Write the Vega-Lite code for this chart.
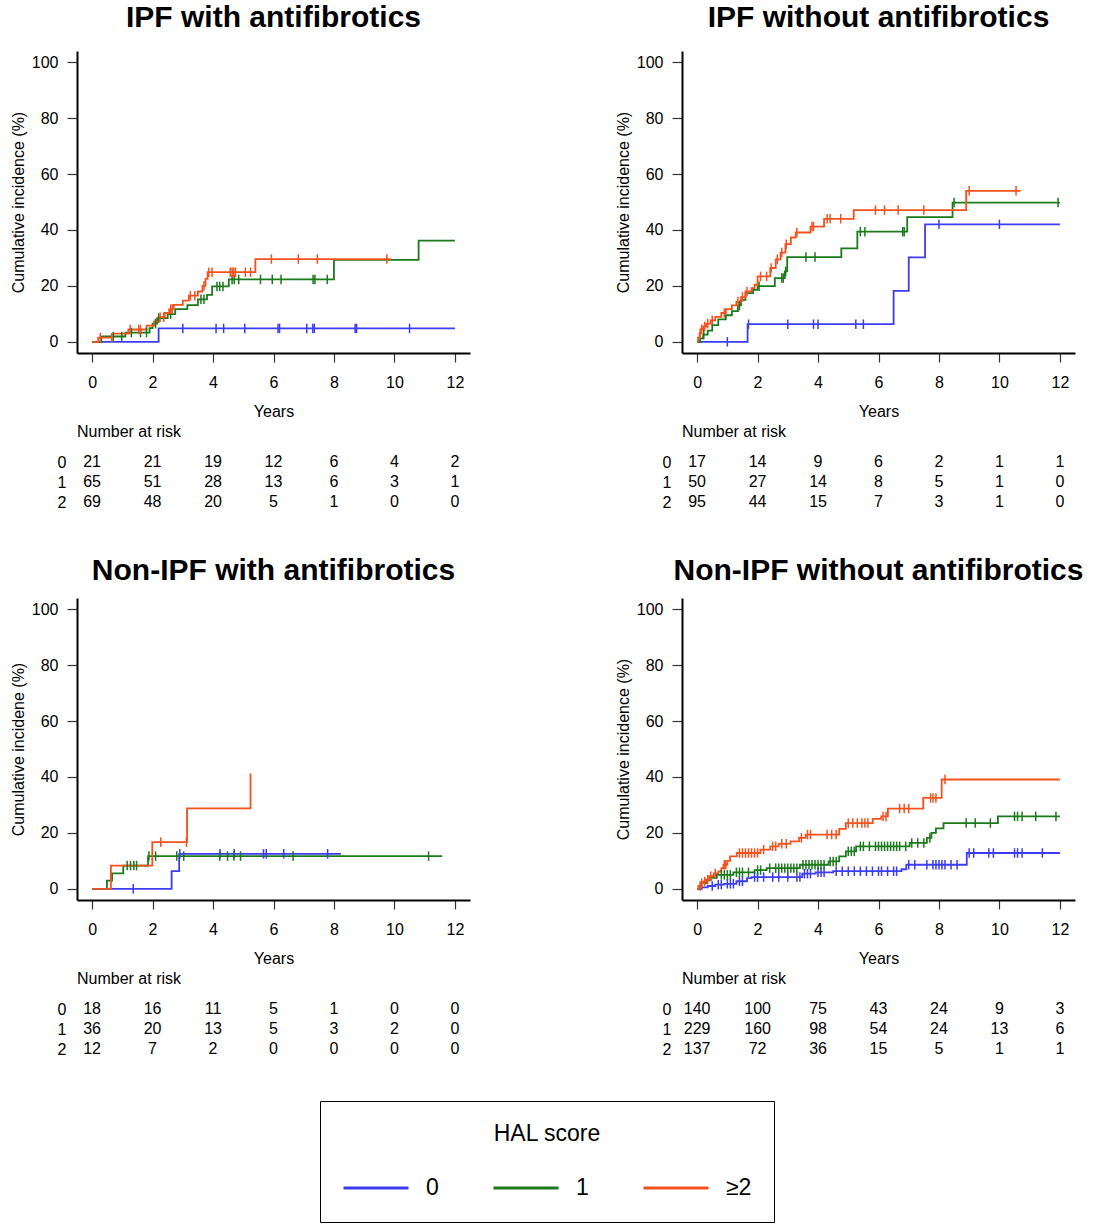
{
"$schema": "https://vega.github.io/schema/vega-lite/v6.json",
"padding": {"left": 10, "top": 3, "right": 5, "bottom": 5},
"config": {
 "font": "Liberation Sans",
 "view": {"stroke": null},
 "axis": {"grid": false, "domainColor": "#000", "domainWidth": 2, "tickColor": "#333", "tickWidth": 1.2, "labelColor": "#000", "titleColor": "#000", "labelFontSize": 16, "titleFontSize": 16, "titleFontWeight": "normal", "labelFont": "Liberation Sans", "titleFont": "Liberation Sans"},
 "axisX": {"tickSize": 9, "labelPadding": 12, "titlePadding": 13},
 "axisY": {"tickSize": 10, "labelPadding": 9, "titlePadding": 5},
 "title": {"font": "Liberation Sans", "fontSize": 30, "fontWeight": "bold", "color": "#000", "anchor": "middle", "frame": "group", "baseline": "alphabetic", "offset": 18},
 "legend": {"orient": "bottom", "direction": "horizontal", "symbolType": "stroke", "symbolStrokeWidth": 3, "symbolSize": 4225, "labelFontSize": 23, "titleFontSize": 23, "titleFontWeight": "normal", "titleAnchor": "middle", "titleOrient": "top", "titleColor": "#000", "labelColor": "#000", "strokeColor": "#000", "padding": 22, "columnPadding": 48, "labelOffset": 16, "offset": 42, "titlePadding": 8, "layout": {"bottom": {"anchor": "middle"}}}
},
"datasets": {
"curves": [
{"p":"A","g":"0","t":0,"v":0},{"p":"A","g":"0","t":2.2,"v":4.8},{"p":"A","g":"0","t":12,"v":4.8},
{"p":"A","g":"1","t":0,"v":0},{"p":"A","g":"1","t":0.3,"v":1.9},{"p":"A","g":"1","t":1.1,"v":3.3},{"p":"A","g":"1","t":1.9,"v":4.9},{"p":"A","g":"1","t":2.0,"v":6.5},{"p":"A","g":"1","t":2.15,"v":8.5},{"p":"A","g":"1","t":2.5,"v":9.9},{"p":"A","g":"1","t":2.75,"v":11.7},{"p":"A","g":"1","t":3.15,"v":13.1},{"p":"A","g":"1","t":3.5,"v":15.2},{"p":"A","g":"1","t":3.8,"v":16.8},{"p":"A","g":"1","t":3.97,"v":19.8},{"p":"A","g":"1","t":4.52,"v":22.3},{"p":"A","g":"1","t":8.0,"v":29.3},{"p":"A","g":"1","t":10.8,"v":36.2},{"p":"A","g":"1","t":12,"v":36.2},
{"p":"A","g":"≥2","t":0,"v":0},{"p":"A","g":"≥2","t":0.2,"v":1.5},{"p":"A","g":"≥2","t":0.7,"v":2.9},{"p":"A","g":"≥2","t":1.2,"v":4.4},{"p":"A","g":"≥2","t":1.8,"v":5.8},{"p":"A","g":"≥2","t":2.05,"v":7.3},{"p":"A","g":"≥2","t":2.2,"v":8.8},{"p":"A","g":"≥2","t":2.4,"v":10.3},{"p":"A","g":"≥2","t":2.55,"v":11.7},{"p":"A","g":"≥2","t":2.7,"v":13.2},{"p":"A","g":"≥2","t":3.0,"v":14.7},{"p":"A","g":"≥2","t":3.2,"v":16.5},{"p":"A","g":"≥2","t":3.5,"v":18.0},{"p":"A","g":"≥2","t":3.65,"v":20.0},{"p":"A","g":"≥2","t":3.75,"v":22.5},{"p":"A","g":"≥2","t":3.82,"v":24.9},{"p":"A","g":"≥2","t":5.4,"v":29.6},{"p":"A","g":"≥2","t":9.9,"v":29.6},
{"p":"B","g":"0","t":0,"v":0},{"p":"B","g":"0","t":1.67,"v":6.3},{"p":"B","g":"0","t":6.5,"v":18.2},{"p":"B","g":"0","t":7.0,"v":30.2},{"p":"B","g":"0","t":7.54,"v":42.0},{"p":"B","g":"0","t":12,"v":42.0},
{"p":"B","g":"1","t":0,"v":0},{"p":"B","g":"1","t":0.1,"v":1.2},{"p":"B","g":"1","t":0.2,"v":2.6},{"p":"B","g":"1","t":0.35,"v":4.0},{"p":"B","g":"1","t":0.5,"v":6.0},{"p":"B","g":"1","t":0.7,"v":8.0},{"p":"B","g":"1","t":0.95,"v":9.5},{"p":"B","g":"1","t":1.15,"v":11.0},{"p":"B","g":"1","t":1.35,"v":13.0},{"p":"B","g":"1","t":1.45,"v":15.0},{"p":"B","g":"1","t":1.6,"v":17.4},{"p":"B","g":"1","t":1.85,"v":18.6},{"p":"B","g":"1","t":2.0,"v":19.9},{"p":"B","g":"1","t":2.57,"v":22.8},{"p":"B","g":"1","t":2.9,"v":25.2},{"p":"B","g":"1","t":2.98,"v":30.3},{"p":"B","g":"1","t":4.77,"v":33.4},{"p":"B","g":"1","t":5.3,"v":39.4},{"p":"B","g":"1","t":6.95,"v":44.6},{"p":"B","g":"1","t":8.45,"v":49.8},{"p":"B","g":"1","t":12,"v":49.8},
{"p":"B","g":"≥2","t":0,"v":0},{"p":"B","g":"≥2","t":0.03,"v":1.5},{"p":"B","g":"≥2","t":0.08,"v":3.0},{"p":"B","g":"≥2","t":0.13,"v":4.5},{"p":"B","g":"≥2","t":0.2,"v":5.5},{"p":"B","g":"≥2","t":0.3,"v":6.5},{"p":"B","g":"≥2","t":0.45,"v":7.7},{"p":"B","g":"≥2","t":0.6,"v":8.9},{"p":"B","g":"≥2","t":0.8,"v":10.3},{"p":"B","g":"≥2","t":0.95,"v":11.7},{"p":"B","g":"≥2","t":1.15,"v":13.0},{"p":"B","g":"≥2","t":1.3,"v":14.4},{"p":"B","g":"≥2","t":1.45,"v":16.0},{"p":"B","g":"≥2","t":1.6,"v":18.0},{"p":"B","g":"≥2","t":1.8,"v":19.2},{"p":"B","g":"≥2","t":1.9,"v":20.4},{"p":"B","g":"≥2","t":2.0,"v":23.4},{"p":"B","g":"≥2","t":2.42,"v":26.4},{"p":"B","g":"≥2","t":2.6,"v":29.5},{"p":"B","g":"≥2","t":2.76,"v":31.9},{"p":"B","g":"≥2","t":2.92,"v":34.9},{"p":"B","g":"≥2","t":3.1,"v":37.3},{"p":"B","g":"≥2","t":3.26,"v":39.1},{"p":"B","g":"≥2","t":3.75,"v":41.2},{"p":"B","g":"≥2","t":4.2,"v":44.0},{"p":"B","g":"≥2","t":5.18,"v":47.1},{"p":"B","g":"≥2","t":8.9,"v":54.0},{"p":"B","g":"≥2","t":10.7,"v":54.0},
{"p":"C","g":"0","t":0,"v":0},{"p":"C","g":"0","t":2.63,"v":6.3},{"p":"C","g":"0","t":2.88,"v":12.5},{"p":"C","g":"0","t":8.23,"v":12.5},
{"p":"C","g":"1","t":0,"v":0},{"p":"C","g":"1","t":0.49,"v":2.9},{"p":"C","g":"1","t":0.66,"v":5.5},{"p":"C","g":"1","t":1.03,"v":8.3},{"p":"C","g":"1","t":1.85,"v":11.7},{"p":"C","g":"1","t":11.58,"v":11.7},
{"p":"C","g":"≥2","t":0,"v":0},{"p":"C","g":"≥2","t":0.62,"v":8.3},{"p":"C","g":"≥2","t":1.99,"v":16.7},{"p":"C","g":"≥2","t":3.14,"v":28.8},{"p":"C","g":"≥2","t":5.24,"v":41.2},
{"p":"D","g":"0","t":0,"v":0},{"p":"D","g":"0","t":0.15,"v":0.5},{"p":"D","g":"0","t":0.35,"v":1.0},{"p":"D","g":"0","t":0.6,"v":1.5},{"p":"D","g":"0","t":0.9,"v":1.8},{"p":"D","g":"0","t":1.3,"v":2.7},{"p":"D","g":"0","t":1.65,"v":3.8},{"p":"D","g":"0","t":1.8,"v":4.2},{"p":"D","g":"0","t":3.48,"v":5.4},{"p":"D","g":"0","t":3.92,"v":5.9},{"p":"D","g":"0","t":4.5,"v":6.3},{"p":"D","g":"0","t":6.76,"v":7.0},{"p":"D","g":"0","t":6.92,"v":8.6},{"p":"D","g":"0","t":8.92,"v":12.8},{"p":"D","g":"0","t":12,"v":12.8},
{"p":"D","g":"1","t":0,"v":0},{"p":"D","g":"1","t":0.05,"v":1.0},{"p":"D","g":"1","t":0.15,"v":2.0},{"p":"D","g":"1","t":0.3,"v":3.0},{"p":"D","g":"1","t":0.45,"v":3.9},{"p":"D","g":"1","t":0.65,"v":5.0},{"p":"D","g":"1","t":1.2,"v":5.9},{"p":"D","g":"1","t":1.9,"v":6.7},{"p":"D","g":"1","t":2.3,"v":7.4},{"p":"D","g":"1","t":3.4,"v":8.6},{"p":"D","g":"1","t":4.35,"v":9.8},{"p":"D","g":"1","t":4.7,"v":11.6},{"p":"D","g":"1","t":4.92,"v":13.4},{"p":"D","g":"1","t":5.26,"v":15.2},{"p":"D","g":"1","t":7.03,"v":16.4},{"p":"D","g":"1","t":7.6,"v":18.2},{"p":"D","g":"1","t":7.75,"v":20.0},{"p":"D","g":"1","t":7.9,"v":21.6},{"p":"D","g":"1","t":8.15,"v":23.5},{"p":"D","g":"1","t":9.95,"v":25.9},{"p":"D","g":"1","t":12,"v":25.9},
{"p":"D","g":"≥2","t":0,"v":0},{"p":"D","g":"≥2","t":0.05,"v":1.0},{"p":"D","g":"≥2","t":0.12,"v":2.0},{"p":"D","g":"≥2","t":0.2,"v":2.6},{"p":"D","g":"≥2","t":0.3,"v":3.3},{"p":"D","g":"≥2","t":0.4,"v":4.5},{"p":"D","g":"≥2","t":0.55,"v":5.5},{"p":"D","g":"≥2","t":0.7,"v":6.2},{"p":"D","g":"≥2","t":0.8,"v":7.4},{"p":"D","g":"≥2","t":0.87,"v":8.6},{"p":"D","g":"≥2","t":1.0,"v":10.0},{"p":"D","g":"≥2","t":1.09,"v":11.6},{"p":"D","g":"≥2","t":1.31,"v":12.8},{"p":"D","g":"≥2","t":2.09,"v":14.0},{"p":"D","g":"≥2","t":2.42,"v":15.2},{"p":"D","g":"≥2","t":2.7,"v":16.1},{"p":"D","g":"≥2","t":3.09,"v":17.0},{"p":"D","g":"≥2","t":3.37,"v":18.2},{"p":"D","g":"≥2","t":3.59,"v":19.4},{"p":"D","g":"≥2","t":4.7,"v":21.4},{"p":"D","g":"≥2","t":4.92,"v":23.5},{"p":"D","g":"≥2","t":5.81,"v":25.0},{"p":"D","g":"≥2","t":6.09,"v":25.9},{"p":"D","g":"≥2","t":6.31,"v":28.7},{"p":"D","g":"≥2","t":7.48,"v":32.5},{"p":"D","g":"≥2","t":8.09,"v":39.1},{"p":"D","g":"≥2","t":12,"v":39.1}
],
"censor": [
{"p":"A","g":"0","t":3.0,"v":4.8},{"p":"A","g":"0","t":4.1,"v":4.8},{"p":"A","g":"0","t":4.35,"v":4.8},{"p":"A","g":"0","t":5.05,"v":4.8},{"p":"A","g":"0","t":6.15,"v":4.8},{"p":"A","g":"0","t":6.2,"v":4.8},{"p":"A","g":"0","t":7.1,"v":4.8},{"p":"A","g":"0","t":7.3,"v":4.8},{"p":"A","g":"0","t":7.35,"v":4.8},{"p":"A","g":"0","t":8.7,"v":4.8},{"p":"A","g":"0","t":8.75,"v":4.8},{"p":"A","g":"0","t":10.5,"v":4.8},
{"p":"A","g":"1","t":0.7,"v":1.9},{"p":"A","g":"1","t":0.98,"v":1.9},{"p":"A","g":"1","t":1.3,"v":3.3},{"p":"A","g":"1","t":1.6,"v":3.3},{"p":"A","g":"1","t":1.8,"v":3.3},{"p":"A","g":"1","t":2.1,"v":6.5},{"p":"A","g":"1","t":2.2,"v":8.5},{"p":"A","g":"1","t":2.6,"v":9.9},{"p":"A","g":"1","t":3.6,"v":15.2},{"p":"A","g":"1","t":3.7,"v":15.2},{"p":"A","g":"1","t":4.13,"v":19.8},{"p":"A","g":"1","t":4.22,"v":19.8},{"p":"A","g":"1","t":4.33,"v":19.8},{"p":"A","g":"1","t":4.63,"v":22.3},{"p":"A","g":"1","t":4.7,"v":22.3},{"p":"A","g":"1","t":4.85,"v":22.3},{"p":"A","g":"1","t":5.57,"v":22.3},{"p":"A","g":"1","t":5.96,"v":22.3},{"p":"A","g":"1","t":6.25,"v":22.3},{"p":"A","g":"1","t":7.31,"v":22.3},{"p":"A","g":"1","t":7.37,"v":22.3},{"p":"A","g":"1","t":7.78,"v":22.3},
{"p":"A","g":"≥2","t":0.27,"v":1.5},{"p":"A","g":"≥2","t":0.65,"v":1.5},{"p":"A","g":"≥2","t":1.26,"v":4.4},{"p":"A","g":"≥2","t":1.54,"v":4.4},{"p":"A","g":"≥2","t":1.6,"v":4.4},{"p":"A","g":"≥2","t":2.25,"v":8.8},{"p":"A","g":"≥2","t":2.37,"v":8.8},{"p":"A","g":"≥2","t":2.6,"v":11.7},{"p":"A","g":"≥2","t":2.65,"v":11.7},{"p":"A","g":"≥2","t":3.25,"v":16.5},{"p":"A","g":"≥2","t":3.4,"v":16.5},{"p":"A","g":"≥2","t":3.7,"v":20.0},{"p":"A","g":"≥2","t":3.86,"v":24.9},{"p":"A","g":"≥2","t":3.97,"v":24.9},{"p":"A","g":"≥2","t":4.57,"v":24.9},{"p":"A","g":"≥2","t":4.63,"v":24.9},{"p":"A","g":"≥2","t":4.68,"v":24.9},{"p":"A","g":"≥2","t":4.74,"v":24.9},{"p":"A","g":"≥2","t":5.07,"v":24.9},{"p":"A","g":"≥2","t":5.24,"v":24.9},{"p":"A","g":"≥2","t":5.93,"v":29.6},{"p":"A","g":"≥2","t":6.82,"v":29.6},{"p":"A","g":"≥2","t":7.45,"v":29.6},{"p":"A","g":"≥2","t":9.75,"v":29.6},
{"p":"B","g":"0","t":1.0,"v":0},{"p":"B","g":"0","t":1.7,"v":6.3},{"p":"B","g":"0","t":3.0,"v":6.3},{"p":"B","g":"0","t":3.85,"v":6.3},{"p":"B","g":"0","t":4.0,"v":6.3},{"p":"B","g":"0","t":5.25,"v":6.3},{"p":"B","g":"0","t":5.5,"v":6.3},{"p":"B","g":"0","t":8.0,"v":42.0},{"p":"B","g":"0","t":10.0,"v":42.0},
{"p":"B","g":"1","t":0.22,"v":2.6},{"p":"B","g":"1","t":1.4,"v":13.0},{"p":"B","g":"1","t":2.05,"v":19.9},{"p":"B","g":"1","t":2.8,"v":22.8},{"p":"B","g":"1","t":2.85,"v":22.8},{"p":"B","g":"1","t":2.93,"v":25.2},{"p":"B","g":"1","t":3.6,"v":30.3},{"p":"B","g":"1","t":3.9,"v":30.3},{"p":"B","g":"1","t":5.4,"v":39.4},{"p":"B","g":"1","t":5.55,"v":39.4},{"p":"B","g":"1","t":6.8,"v":39.4},{"p":"B","g":"1","t":6.85,"v":39.4},{"p":"B","g":"1","t":8.5,"v":49.8},{"p":"B","g":"1","t":11.94,"v":49.8},
{"p":"B","g":"≥2","t":0.1,"v":3.0},{"p":"B","g":"≥2","t":0.15,"v":4.5},{"p":"B","g":"≥2","t":0.25,"v":5.5},{"p":"B","g":"≥2","t":0.35,"v":6.5},{"p":"B","g":"≥2","t":0.5,"v":7.7},{"p":"B","g":"≥2","t":0.9,"v":10.3},{"p":"B","g":"≥2","t":1.35,"v":14.4},{"p":"B","g":"≥2","t":1.5,"v":16.0},{"p":"B","g":"≥2","t":1.65,"v":18.0},{"p":"B","g":"≥2","t":2.1,"v":23.4},{"p":"B","g":"≥2","t":2.3,"v":23.4},{"p":"B","g":"≥2","t":2.45,"v":26.4},{"p":"B","g":"≥2","t":2.65,"v":29.5},{"p":"B","g":"≥2","t":2.8,"v":31.9},{"p":"B","g":"≥2","t":2.95,"v":34.9},{"p":"B","g":"≥2","t":3.3,"v":39.1},{"p":"B","g":"≥2","t":3.8,"v":41.2},{"p":"B","g":"≥2","t":3.85,"v":41.2},{"p":"B","g":"≥2","t":4.3,"v":44.0},{"p":"B","g":"≥2","t":4.4,"v":44.0},{"p":"B","g":"≥2","t":4.75,"v":44.0},{"p":"B","g":"≥2","t":5.9,"v":47.1},{"p":"B","g":"≥2","t":6.2,"v":47.1},{"p":"B","g":"≥2","t":6.65,"v":47.1},{"p":"B","g":"≥2","t":7.5,"v":47.1},{"p":"B","g":"≥2","t":9.0,"v":54.0},{"p":"B","g":"≥2","t":10.55,"v":54.0},
{"p":"C","g":"0","t":1.36,"v":0},{"p":"C","g":"0","t":2.9,"v":12.5},{"p":"C","g":"0","t":4.23,"v":12.5},{"p":"C","g":"0","t":4.7,"v":12.5},{"p":"C","g":"0","t":5.67,"v":12.5},{"p":"C","g":"0","t":5.76,"v":12.5},{"p":"C","g":"0","t":6.34,"v":12.5},{"p":"C","g":"0","t":7.79,"v":12.5},
{"p":"C","g":"1","t":1.16,"v":8.3},{"p":"C","g":"1","t":1.27,"v":8.3},{"p":"C","g":"1","t":1.38,"v":8.3},{"p":"C","g":"1","t":1.47,"v":8.3},{"p":"C","g":"1","t":1.88,"v":11.7},{"p":"C","g":"1","t":2.1,"v":11.7},{"p":"C","g":"1","t":2.8,"v":11.7},{"p":"C","g":"1","t":3.03,"v":11.7},{"p":"C","g":"1","t":4.22,"v":11.7},{"p":"C","g":"1","t":4.48,"v":11.7},{"p":"C","g":"1","t":4.69,"v":11.7},{"p":"C","g":"1","t":4.91,"v":11.7},{"p":"C","g":"1","t":6.65,"v":11.7},{"p":"C","g":"1","t":11.13,"v":11.7},
{"p":"C","g":"≥2","t":2.27,"v":16.7},{"p":"C","g":"≥2","t":3.12,"v":16.7},
{"p":"D","g":"0","t":0.5,"v":1.0},{"p":"D","g":"0","t":0.7,"v":1.5},{"p":"D","g":"0","t":0.8,"v":1.5},{"p":"D","g":"0","t":1.0,"v":1.8},{"p":"D","g":"0","t":1.1,"v":1.8},{"p":"D","g":"0","t":1.2,"v":1.8},{"p":"D","g":"0","t":1.4,"v":2.7},{"p":"D","g":"0","t":1.5,"v":2.7},{"p":"D","g":"0","t":1.9,"v":4.2},{"p":"D","g":"0","t":2.0,"v":4.2},{"p":"D","g":"0","t":2.2,"v":4.2},{"p":"D","g":"0","t":2.5,"v":4.2},{"p":"D","g":"0","t":2.7,"v":4.2},{"p":"D","g":"0","t":3.0,"v":4.2},{"p":"D","g":"0","t":3.3,"v":4.2},{"p":"D","g":"0","t":3.4,"v":4.2},{"p":"D","g":"0","t":3.55,"v":5.4},{"p":"D","g":"0","t":3.65,"v":5.4},{"p":"D","g":"0","t":3.75,"v":5.4},{"p":"D","g":"0","t":4.0,"v":5.9},{"p":"D","g":"0","t":4.1,"v":5.9},{"p":"D","g":"0","t":4.2,"v":5.9},{"p":"D","g":"0","t":4.6,"v":6.3},{"p":"D","g":"0","t":4.8,"v":6.3},{"p":"D","g":"0","t":5.0,"v":6.3},{"p":"D","g":"0","t":5.2,"v":6.3},{"p":"D","g":"0","t":5.4,"v":6.3},{"p":"D","g":"0","t":5.6,"v":6.3},{"p":"D","g":"0","t":5.8,"v":6.3},{"p":"D","g":"0","t":6.0,"v":6.3},{"p":"D","g":"0","t":6.1,"v":6.3},{"p":"D","g":"0","t":6.3,"v":6.3},{"p":"D","g":"0","t":6.5,"v":6.3},{"p":"D","g":"0","t":6.6,"v":6.3},{"p":"D","g":"0","t":7.0,"v":8.6},{"p":"D","g":"0","t":7.2,"v":8.6},{"p":"D","g":"0","t":7.6,"v":8.6},{"p":"D","g":"0","t":7.8,"v":8.6},{"p":"D","g":"0","t":7.9,"v":8.6},{"p":"D","g":"0","t":8.0,"v":8.6},{"p":"D","g":"0","t":8.1,"v":8.6},{"p":"D","g":"0","t":8.2,"v":8.6},{"p":"D","g":"0","t":8.4,"v":8.6},{"p":"D","g":"0","t":8.6,"v":8.6},{"p":"D","g":"0","t":9.0,"v":12.8},{"p":"D","g":"0","t":9.15,"v":12.8},{"p":"D","g":"0","t":9.65,"v":12.8},{"p":"D","g":"0","t":9.8,"v":12.8},{"p":"D","g":"0","t":10.5,"v":12.8},{"p":"D","g":"0","t":10.6,"v":12.8},{"p":"D","g":"0","t":10.75,"v":12.8},{"p":"D","g":"0","t":11.42,"v":12.8},
{"p":"D","g":"1","t":0.8,"v":5.0},{"p":"D","g":"1","t":0.9,"v":5.0},{"p":"D","g":"1","t":1.0,"v":5.0},{"p":"D","g":"1","t":1.1,"v":5.0},{"p":"D","g":"1","t":1.3,"v":5.9},{"p":"D","g":"1","t":1.4,"v":5.9},{"p":"D","g":"1","t":1.5,"v":5.9},{"p":"D","g":"1","t":1.7,"v":5.9},{"p":"D","g":"1","t":2.0,"v":6.7},{"p":"D","g":"1","t":2.1,"v":6.7},{"p":"D","g":"1","t":2.4,"v":7.4},{"p":"D","g":"1","t":2.6,"v":7.4},{"p":"D","g":"1","t":2.7,"v":7.4},{"p":"D","g":"1","t":2.8,"v":7.4},{"p":"D","g":"1","t":2.9,"v":7.4},{"p":"D","g":"1","t":3.0,"v":7.4},{"p":"D","g":"1","t":3.1,"v":7.4},{"p":"D","g":"1","t":3.2,"v":7.4},{"p":"D","g":"1","t":3.3,"v":7.4},{"p":"D","g":"1","t":3.5,"v":8.6},{"p":"D","g":"1","t":3.6,"v":8.6},{"p":"D","g":"1","t":3.7,"v":8.6},{"p":"D","g":"1","t":3.8,"v":8.6},{"p":"D","g":"1","t":3.9,"v":8.6},{"p":"D","g":"1","t":4.0,"v":8.6},{"p":"D","g":"1","t":4.1,"v":8.6},{"p":"D","g":"1","t":4.2,"v":8.6},{"p":"D","g":"1","t":4.4,"v":9.8},{"p":"D","g":"1","t":4.5,"v":9.8},{"p":"D","g":"1","t":4.6,"v":9.8},{"p":"D","g":"1","t":5.0,"v":13.4},{"p":"D","g":"1","t":5.1,"v":13.4},{"p":"D","g":"1","t":5.2,"v":13.4},{"p":"D","g":"1","t":5.4,"v":15.2},{"p":"D","g":"1","t":5.5,"v":15.2},{"p":"D","g":"1","t":5.7,"v":15.2},{"p":"D","g":"1","t":5.9,"v":15.2},{"p":"D","g":"1","t":6.0,"v":15.2},{"p":"D","g":"1","t":6.1,"v":15.2},{"p":"D","g":"1","t":6.2,"v":15.2},{"p":"D","g":"1","t":6.3,"v":15.2},{"p":"D","g":"1","t":6.4,"v":15.2},{"p":"D","g":"1","t":6.5,"v":15.2},{"p":"D","g":"1","t":6.6,"v":15.2},{"p":"D","g":"1","t":6.7,"v":15.2},{"p":"D","g":"1","t":6.9,"v":15.2},{"p":"D","g":"1","t":7.1,"v":16.4},{"p":"D","g":"1","t":7.3,"v":16.4},{"p":"D","g":"1","t":7.5,"v":16.4},{"p":"D","g":"1","t":7.7,"v":18.2},{"p":"D","g":"1","t":8.9,"v":23.5},{"p":"D","g":"1","t":9.2,"v":23.5},{"p":"D","g":"1","t":9.7,"v":23.5},{"p":"D","g":"1","t":10.5,"v":25.9},{"p":"D","g":"1","t":10.6,"v":25.9},{"p":"D","g":"1","t":10.75,"v":25.9},{"p":"D","g":"1","t":11.2,"v":25.9},{"p":"D","g":"1","t":11.87,"v":25.9},
{"p":"D","g":"≥2","t":0.1,"v":1.0},{"p":"D","g":"≥2","t":0.15,"v":2.0},{"p":"D","g":"≥2","t":0.25,"v":2.6},{"p":"D","g":"≥2","t":0.35,"v":3.3},{"p":"D","g":"≥2","t":0.45,"v":4.5},{"p":"D","g":"≥2","t":0.6,"v":5.5},{"p":"D","g":"≥2","t":0.9,"v":8.6},{"p":"D","g":"≥2","t":0.95,"v":8.6},{"p":"D","g":"≥2","t":1.4,"v":12.8},{"p":"D","g":"≥2","t":1.5,"v":12.8},{"p":"D","g":"≥2","t":1.6,"v":12.8},{"p":"D","g":"≥2","t":1.7,"v":12.8},{"p":"D","g":"≥2","t":1.8,"v":12.8},{"p":"D","g":"≥2","t":1.9,"v":12.8},{"p":"D","g":"≥2","t":2.0,"v":12.8},{"p":"D","g":"≥2","t":2.2,"v":14.0},{"p":"D","g":"≥2","t":2.5,"v":15.2},{"p":"D","g":"≥2","t":2.6,"v":15.2},{"p":"D","g":"≥2","t":2.8,"v":16.1},{"p":"D","g":"≥2","t":2.95,"v":16.1},{"p":"D","g":"≥2","t":3.45,"v":18.2},{"p":"D","g":"≥2","t":3.65,"v":19.4},{"p":"D","g":"≥2","t":3.75,"v":19.4},{"p":"D","g":"≥2","t":4.3,"v":19.4},{"p":"D","g":"≥2","t":4.45,"v":19.4},{"p":"D","g":"≥2","t":4.6,"v":19.4},{"p":"D","g":"≥2","t":5.0,"v":23.5},{"p":"D","g":"≥2","t":5.15,"v":23.5},{"p":"D","g":"≥2","t":5.3,"v":23.5},{"p":"D","g":"≥2","t":5.45,"v":23.5},{"p":"D","g":"≥2","t":5.55,"v":23.5},{"p":"D","g":"≥2","t":5.65,"v":23.5},{"p":"D","g":"≥2","t":6.15,"v":25.9},{"p":"D","g":"≥2","t":6.25,"v":25.9},{"p":"D","g":"≥2","t":6.7,"v":28.7},{"p":"D","g":"≥2","t":6.85,"v":28.7},{"p":"D","g":"≥2","t":7.0,"v":28.7},{"p":"D","g":"≥2","t":7.72,"v":32.5},{"p":"D","g":"≥2","t":7.8,"v":32.5},{"p":"D","g":"≥2","t":7.9,"v":32.5},{"p":"D","g":"≥2","t":8.2,"v":39.1}
],
"risk": [
{"p":"A","g":"0","t":0,"n":21},{"p":"A","g":"0","t":2,"n":21},{"p":"A","g":"0","t":4,"n":19},{"p":"A","g":"0","t":6,"n":12},{"p":"A","g":"0","t":8,"n":6},{"p":"A","g":"0","t":10,"n":4},{"p":"A","g":"0","t":12,"n":2},
{"p":"A","g":"1","t":0,"n":65},{"p":"A","g":"1","t":2,"n":51},{"p":"A","g":"1","t":4,"n":28},{"p":"A","g":"1","t":6,"n":13},{"p":"A","g":"1","t":8,"n":6},{"p":"A","g":"1","t":10,"n":3},{"p":"A","g":"1","t":12,"n":1},
{"p":"A","g":"2","t":0,"n":69},{"p":"A","g":"2","t":2,"n":48},{"p":"A","g":"2","t":4,"n":20},{"p":"A","g":"2","t":6,"n":5},{"p":"A","g":"2","t":8,"n":1},{"p":"A","g":"2","t":10,"n":0},{"p":"A","g":"2","t":12,"n":0},
{"p":"B","g":"0","t":0,"n":17},{"p":"B","g":"0","t":2,"n":14},{"p":"B","g":"0","t":4,"n":9},{"p":"B","g":"0","t":6,"n":6},{"p":"B","g":"0","t":8,"n":2},{"p":"B","g":"0","t":10,"n":1},{"p":"B","g":"0","t":12,"n":1},
{"p":"B","g":"1","t":0,"n":50},{"p":"B","g":"1","t":2,"n":27},{"p":"B","g":"1","t":4,"n":14},{"p":"B","g":"1","t":6,"n":8},{"p":"B","g":"1","t":8,"n":5},{"p":"B","g":"1","t":10,"n":1},{"p":"B","g":"1","t":12,"n":0},
{"p":"B","g":"2","t":0,"n":95},{"p":"B","g":"2","t":2,"n":44},{"p":"B","g":"2","t":4,"n":15},{"p":"B","g":"2","t":6,"n":7},{"p":"B","g":"2","t":8,"n":3},{"p":"B","g":"2","t":10,"n":1},{"p":"B","g":"2","t":12,"n":0},
{"p":"C","g":"0","t":0,"n":18},{"p":"C","g":"0","t":2,"n":16},{"p":"C","g":"0","t":4,"n":11},{"p":"C","g":"0","t":6,"n":5},{"p":"C","g":"0","t":8,"n":1},{"p":"C","g":"0","t":10,"n":0},{"p":"C","g":"0","t":12,"n":0},
{"p":"C","g":"1","t":0,"n":36},{"p":"C","g":"1","t":2,"n":20},{"p":"C","g":"1","t":4,"n":13},{"p":"C","g":"1","t":6,"n":5},{"p":"C","g":"1","t":8,"n":3},{"p":"C","g":"1","t":10,"n":2},{"p":"C","g":"1","t":12,"n":0},
{"p":"C","g":"2","t":0,"n":12},{"p":"C","g":"2","t":2,"n":7},{"p":"C","g":"2","t":4,"n":2},{"p":"C","g":"2","t":6,"n":0},{"p":"C","g":"2","t":8,"n":0},{"p":"C","g":"2","t":10,"n":0},{"p":"C","g":"2","t":12,"n":0},
{"p":"D","g":"0","t":0,"n":140},{"p":"D","g":"0","t":2,"n":100},{"p":"D","g":"0","t":4,"n":75},{"p":"D","g":"0","t":6,"n":43},{"p":"D","g":"0","t":8,"n":24},{"p":"D","g":"0","t":10,"n":9},{"p":"D","g":"0","t":12,"n":3},
{"p":"D","g":"1","t":0,"n":229},{"p":"D","g":"1","t":2,"n":160},{"p":"D","g":"1","t":4,"n":98},{"p":"D","g":"1","t":6,"n":54},{"p":"D","g":"1","t":8,"n":24},{"p":"D","g":"1","t":10,"n":13},{"p":"D","g":"1","t":12,"n":6},
{"p":"D","g":"2","t":0,"n":137},{"p":"D","g":"2","t":2,"n":72},{"p":"D","g":"2","t":4,"n":36},{"p":"D","g":"2","t":6,"n":15},{"p":"D","g":"2","t":8,"n":5},{"p":"D","g":"2","t":10,"n":1},{"p":"D","g":"2","t":12,"n":1}
]
},
"spacing": 44,
"vconcat": [
{"hconcat": [
 {"spacing": 5, "vconcat": [
  {"width": 393, "height": 302, "title": "IPF with antifibrotics",
   "encoding": {"x": {"field": "t", "type": "quantitative", "title": "Years", "scale": {"domain": [-0.5, 12.5], "nice": false, "zero": false}, "axis": {"values": [0,2,4,6,8,10,12]}},
                "y": {"field": "v", "type": "quantitative", "title": "Cumulative incidence (%)", "scale": {"domain": [-4, 104], "nice": false, "zero": false}, "axis": {"values": [0,20,40,60,80,100]}}},
   "layer": [
    {"data": {"name": "curves"}, "transform": [{"filter": "datum.p === 'A'"}], "mark": {"type": "line", "interpolate": "step-after", "strokeWidth": 1.8},
     "encoding": {"color": {"field": "g", "type": "nominal", "title": "HAL score", "scale": {"domain": ["0","1","≥2"], "range": ["#3c3cf5","#1b7a1b","#f4511e"]}}}},
    {"data": {"name": "censor"}, "transform": [{"filter": "datum.p === 'A'"}], "mark": {"type": "point", "shape": "M0,-1L0,1", "size": 90, "strokeWidth": 1.5, "filled": false, "opacity": 1},
     "encoding": {"stroke": {"field": "g", "type": "nominal", "scale": {"domain": ["≥2","1","0"], "range": ["#f4511e","#1b7a1b","#3c3cf5"]}, "legend": null}}}
   ]},
  {"width": 393, "height": 60, "title": {"text": "Number at risk", "anchor": "start", "fontSize": 16, "fontWeight": "normal", "offset": 12},
   "data": {"name": "risk"}, "transform": [{"filter": "datum.p === 'A'"}],
   "mark": {"type": "text", "fontSize": 16, "color": "#000"},
   "encoding": {"x": {"field": "t", "type": "quantitative", "scale": {"domain": [-0.5, 12.5], "nice": false, "zero": false}, "axis": null},
                "y": {"field": "g", "type": "ordinal", "sort": ["0","1","2"], "scale": {"paddingInner": 0, "paddingOuter": 0}, "axis": {"title": null, "domain": false, "ticks": false, "labelPadding": 11, "labelFontSize": 16}},
                "text": {"field": "n", "type": "quantitative"}}}
 ]},
 {"spacing": 5, "vconcat": [
  {"width": 393, "height": 302, "title": "IPF without antifibrotics",
   "encoding": {"x": {"field": "t", "type": "quantitative", "title": "Years", "scale": {"domain": [-0.5, 12.5], "nice": false, "zero": false}, "axis": {"values": [0,2,4,6,8,10,12]}},
                "y": {"field": "v", "type": "quantitative", "title": "Cumulative incidence (%)", "scale": {"domain": [-4, 104], "nice": false, "zero": false}, "axis": {"values": [0,20,40,60,80,100]}}},
   "layer": [
    {"data": {"name": "curves"}, "transform": [{"filter": "datum.p === 'B'"}], "mark": {"type": "line", "interpolate": "step-after", "strokeWidth": 1.8},
     "encoding": {"color": {"field": "g", "type": "nominal", "title": "HAL score", "scale": {"domain": ["0","1","≥2"], "range": ["#3c3cf5","#1b7a1b","#f4511e"]}}}},
    {"data": {"name": "censor"}, "transform": [{"filter": "datum.p === 'B'"}], "mark": {"type": "point", "shape": "M0,-1L0,1", "size": 90, "strokeWidth": 1.5, "filled": false, "opacity": 1},
     "encoding": {"stroke": {"field": "g", "type": "nominal", "scale": {"domain": ["≥2","1","0"], "range": ["#f4511e","#1b7a1b","#3c3cf5"]}, "legend": null}}}
   ]},
  {"width": 393, "height": 60, "title": {"text": "Number at risk", "anchor": "start", "fontSize": 16, "fontWeight": "normal", "offset": 12},
   "data": {"name": "risk"}, "transform": [{"filter": "datum.p === 'B'"}],
   "mark": {"type": "text", "fontSize": 16, "color": "#000"},
   "encoding": {"x": {"field": "t", "type": "quantitative", "scale": {"domain": [-0.5, 12.5], "nice": false, "zero": false}, "axis": null},
                "y": {"field": "g", "type": "ordinal", "sort": ["0","1","2"], "scale": {"paddingInner": 0, "paddingOuter": 0}, "axis": {"title": null, "domain": false, "ticks": false, "labelPadding": 11, "labelFontSize": 16}},
                "text": {"field": "n", "type": "quantitative"}}}
 ]}
], "spacing": 145},
{"hconcat": [
 {"spacing": 5, "vconcat": [
  {"width": 393, "height": 302, "title": {"text": "Non-IPF with antifibrotics", "offset": 12},
   "encoding": {"x": {"field": "t", "type": "quantitative", "title": "Years", "scale": {"domain": [-0.5, 12.5], "nice": false, "zero": false}, "axis": {"values": [0,2,4,6,8,10,12]}},
                "y": {"field": "v", "type": "quantitative", "title": "Cumulative incidene (%)", "scale": {"domain": [-4, 104], "nice": false, "zero": false}, "axis": {"values": [0,20,40,60,80,100]}}},
   "layer": [
    {"data": {"name": "curves"}, "transform": [{"filter": "datum.p === 'C'"}], "mark": {"type": "line", "interpolate": "step-after", "strokeWidth": 1.8},
     "encoding": {"color": {"field": "g", "type": "nominal", "title": "HAL score", "scale": {"domain": ["0","1","≥2"], "range": ["#3c3cf5","#1b7a1b","#f4511e"]}}}},
    {"data": {"name": "censor"}, "transform": [{"filter": "datum.p === 'C'"}], "mark": {"type": "point", "shape": "M0,-1L0,1", "size": 90, "strokeWidth": 1.5, "filled": false, "opacity": 1},
     "encoding": {"stroke": {"field": "g", "type": "nominal", "scale": {"domain": ["≥2","1","0"], "range": ["#f4511e","#1b7a1b","#3c3cf5"]}, "legend": null}}}
   ]},
  {"width": 393, "height": 60, "title": {"text": "Number at risk", "anchor": "start", "fontSize": 16, "fontWeight": "normal", "offset": 12},
   "data": {"name": "risk"}, "transform": [{"filter": "datum.p === 'C'"}],
   "mark": {"type": "text", "fontSize": 16, "color": "#000"},
   "encoding": {"x": {"field": "t", "type": "quantitative", "scale": {"domain": [-0.5, 12.5], "nice": false, "zero": false}, "axis": null},
                "y": {"field": "g", "type": "ordinal", "sort": ["0","1","2"], "scale": {"paddingInner": 0, "paddingOuter": 0}, "axis": {"title": null, "domain": false, "ticks": false, "labelPadding": 11, "labelFontSize": 16}},
                "text": {"field": "n", "type": "quantitative"}}}
 ]},
 {"spacing": 5, "vconcat": [
  {"width": 393, "height": 302, "title": {"text": "Non-IPF without antifibrotics", "offset": 12},
   "encoding": {"x": {"field": "t", "type": "quantitative", "title": "Years", "scale": {"domain": [-0.5, 12.5], "nice": false, "zero": false}, "axis": {"values": [0,2,4,6,8,10,12]}},
                "y": {"field": "v", "type": "quantitative", "title": "Cumulative incidence (%)", "scale": {"domain": [-4, 104], "nice": false, "zero": false}, "axis": {"values": [0,20,40,60,80,100]}}},
   "layer": [
    {"data": {"name": "curves"}, "transform": [{"filter": "datum.p === 'D'"}], "mark": {"type": "line", "interpolate": "step-after", "strokeWidth": 1.8},
     "encoding": {"color": {"field": "g", "type": "nominal", "title": "HAL score", "scale": {"domain": ["0","1","≥2"], "range": ["#3c3cf5","#1b7a1b","#f4511e"]}}}},
    {"data": {"name": "censor"}, "transform": [{"filter": "datum.p === 'D'"}], "mark": {"type": "point", "shape": "M0,-1L0,1", "size": 90, "strokeWidth": 1.5, "filled": false, "opacity": 1},
     "encoding": {"stroke": {"field": "g", "type": "nominal", "scale": {"domain": ["≥2","1","0"], "range": ["#f4511e","#1b7a1b","#3c3cf5"]}, "legend": null}}}
   ]},
  {"width": 393, "height": 60, "title": {"text": "Number at risk", "anchor": "start", "fontSize": 16, "fontWeight": "normal", "offset": 12},
   "data": {"name": "risk"}, "transform": [{"filter": "datum.p === 'D'"}],
   "mark": {"type": "text", "fontSize": 16, "color": "#000"},
   "encoding": {"x": {"field": "t", "type": "quantitative", "scale": {"domain": [-0.5, 12.5], "nice": false, "zero": false}, "axis": null},
                "y": {"field": "g", "type": "ordinal", "sort": ["0","1","2"], "scale": {"paddingInner": 0, "paddingOuter": 0}, "axis": {"title": null, "domain": false, "ticks": false, "labelPadding": 11, "labelFontSize": 16}},
                "text": {"field": "n", "type": "quantitative"}}}
 ]}
], "spacing": 145}
]
}
